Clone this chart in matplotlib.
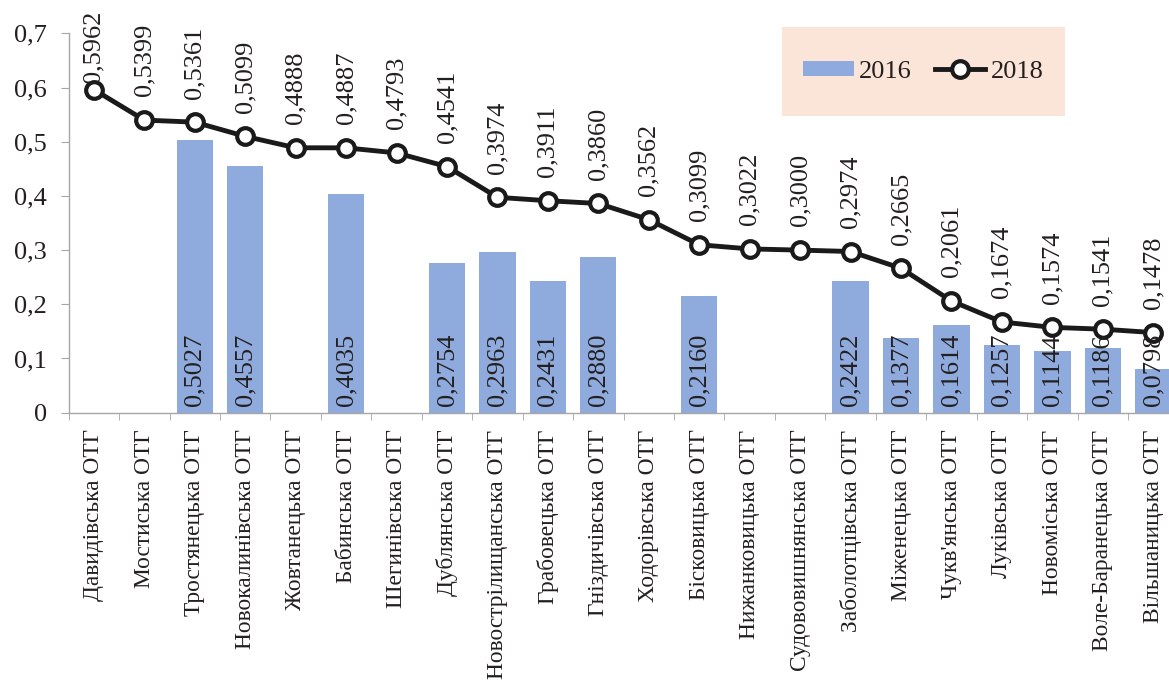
import numpy as np
import matplotlib
matplotlib.use("Agg")
import matplotlib.pyplot as plt
from matplotlib import font_manager
from matplotlib.patches import Rectangle
from matplotlib.ticker import FuncFormatter

available = set(f.name for f in font_manager.fontManager.ttflist)
wanted = ['Times New Roman', 'Tinos', 'Liberation Serif', 'Nimbus Roman',
          'Noto Serif', 'DejaVu Serif']
fams = [f for f in wanted if f in available] + ['DejaVu Serif']
plt.rcParams['font.family'] = fams

categories = ['Давидівська ОТГ', 'Мостиська ОТГ', 'Тростянецька ОТГ',
              'Новокалинівська ОТГ', 'Жовтанецька ОТГ', 'Бабинська ОТГ',
              'Шегинівська ОТГ', 'Дублянська ОТГ', 'Новострілищанська ОТГ',
              'Грабовецька ОТГ', 'Гніздичівська ОТГ', 'Ходорівська ОТГ',
              'Бісковицька ОТГ', 'Нижанковицька ОТГ', 'Судововишнянська ОТГ',
              'Заболотцівська ОТГ', 'Міженецька ОТГ', "Чукв'янська ОТГ",
              'Луківська ОТГ', 'Новоміська ОТГ', 'Воле-Баранецька ОТГ',
              'Вільшаницька ОТГ']

values_2016 = [None, None, 0.5027, 0.4557, None, 0.4035, None, 0.2754,
               0.2963, 0.2431, 0.2880, None, 0.2160, None, None, 0.2422,
               0.1377, 0.1614, 0.1257, 0.1144, 0.1186, 0.0798]

values_2018 = [0.5962, 0.5399, 0.5361, 0.5099, 0.4888, 0.4887, 0.4793,
               0.4541, 0.3974, 0.3911, 0.3860, 0.3562, 0.3099, 0.3022,
               0.3000, 0.2974, 0.2665, 0.2061, 0.1674, 0.1574, 0.1541,
               0.1478]

series_names = ['2016', '2018']

bar_color = '#8FAADC'
text_color = '#231F20'
spine_color = '#A6A6A6'
fs = 19
fs_cat = 16.8


def comma(v, digits=4):
    return f"{v:.{digits}f}".replace('.', ',')


fig = plt.figure(figsize=(11.69, 6.8), dpi=100)
ax = fig.add_axes([0.0587, 0.3931, 1.0081 - 0.0587, 0.951 - 0.3931])

x = np.arange(len(categories))
bx = [i for i, v in enumerate(values_2016) if v is not None]
bh = [v for v in values_2016 if v is not None]

bars = ax.bar(bx, bh, width=0.72, color=bar_color, label=series_names[0], zorder=2)
line, = ax.plot(x, values_2018, color='#1a1a1a', lw=3.5, marker='o', ms=12,
                mfc='white', mec='#1a1a1a', mew=3, label=series_names[1], zorder=3)

# labels on bars (inside, at the base)
for xi, v in zip(bx, bh):
    ax.annotate(comma(v), (xi, 0), xytext=(0, 5), textcoords='offset points',
                rotation=90, ha='center', va='bottom', fontsize=fs,
                color=text_color, zorder=4)

# labels above line points
for i, v in enumerate(values_2018):
    off = 5 if i == 0 else 17
    ax.annotate(comma(v), (i, v), xytext=(0, off), textcoords='offset points',
                rotation=90, ha='center', va='bottom', fontsize=fs,
                color=text_color, annotation_clip=False, zorder=4)

ax.set_xlim(-0.5, len(categories) - 0.5)
ax.set_ylim(0, 0.7)
ax.set_yticks(np.arange(0, 0.71, 0.1))
ax.yaxis.set_major_formatter(FuncFormatter(lambda v, p: '0' if abs(v) < 1e-9 else comma(v, 1)))

ax.set_xticks(x)
ax.set_xticklabels(categories, rotation=90, fontsize=fs_cat, color=text_color)
ax.set_xticks(np.arange(-0.5, len(categories), 1), minor=True)
ax.tick_params(axis='x', which='major', length=0, pad=12)
ax.tick_params(axis='x', which='minor', length=5, color=spine_color, direction='out')
ax.tick_params(axis='y', labelsize=fs, labelcolor=text_color, length=5.5,
               color=spine_color, pad=10)

for s in ['top', 'right']:
    ax.spines[s].set_visible(False)
for s in ['left', 'bottom']:
    ax.spines[s].set_color(spine_color)
    ax.spines[s].set_linewidth(1)

# legend box
fig.patches.append(Rectangle((0.669, 0.829), 0.242, 0.131, transform=fig.transFigure,
                             facecolor='#FAE5D8', edgecolor='none', zorder=0))
leg = fig.legend(handles=[bars, line], labels=series_names, loc='center',
                 bbox_to_anchor=(0.669 + 0.121, 0.829 + 0.0655), ncol=2,
                 frameon=False, fontsize=fs, handlelength=1.9, handletextpad=0.2,
                 columnspacing=0.9, handleheight=0.55)
for t in leg.get_texts():
    t.set_color(text_color)

fig.savefig('out.png', dpi=100)
